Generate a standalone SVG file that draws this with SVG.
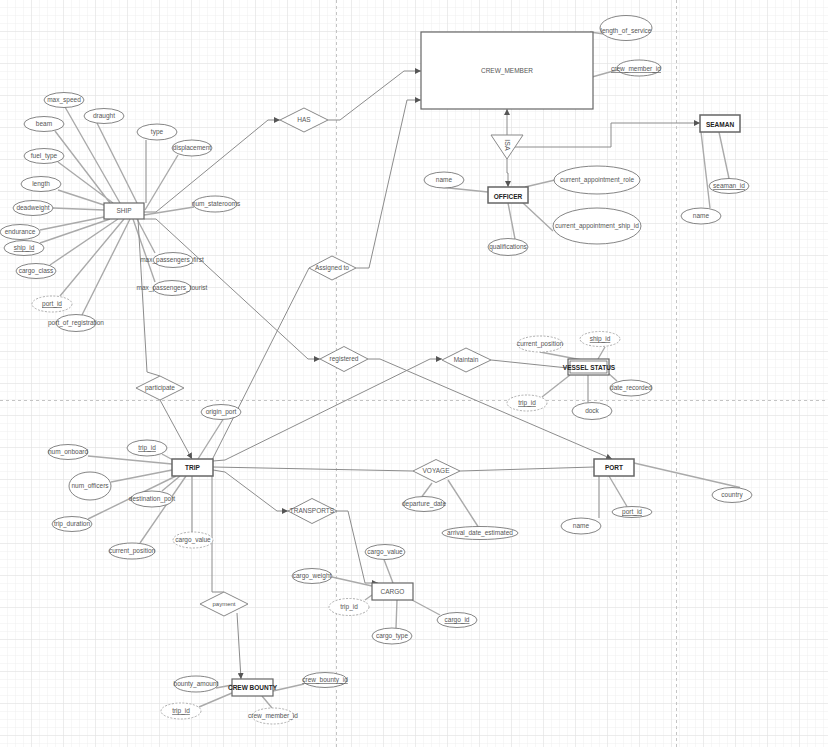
<svg xmlns="http://www.w3.org/2000/svg" width="828" height="747" viewBox="0 0 828 747">
<defs>
<pattern id="g8" width="8" height="8" patternUnits="userSpaceOnUse"><path d="M8 0V8H0" fill="none" stroke="#efefef" stroke-width="1"/></pattern>
<pattern id="g32" width="32" height="32" patternUnits="userSpaceOnUse"><rect width="32" height="32" fill="url(#g8)"/><path d="M32 0V32H0" fill="none" stroke="#e2e2e2" stroke-width="1"/></pattern>
<marker id="arr" markerUnits="userSpaceOnUse" markerWidth="6" markerHeight="6" refX="6" refY="3" orient="auto"><path d="M0,0 L6,3 L0,6 z" fill="#555"/></marker>
</defs>
<style>
.t{font-family:"Liberation Sans",Arial,sans-serif;font-size:6.5px;fill:#555;text-anchor:middle}
.b{font-weight:bold;fill:#222}
.u{text-decoration:underline}
.e{fill:#fff;stroke:#666;stroke-width:1.2}
.a{fill:#fff;stroke:#666;stroke-width:0.8}
.d{stroke-dasharray:2,1.5;stroke:#999}
.r{fill:#fff;stroke:#888;stroke-width:1}
.al{stroke:#aaa;stroke-width:1.4;fill:none}
.rl{stroke:#8c8c8c;stroke-width:1;fill:none}
.pb{stroke:#c4c4c4;stroke-width:1;stroke-dasharray:3,3;fill:none}
</style>
<rect width="828" height="747" fill="#fff"/>
<rect width="828" height="747" fill="url(#g32)"/>
<g id="pagebreaks">
<path class="pb" d="M336.5 0V747M676.5 0V747M0 400.5H828"/>
</g>
<g id="connectors">
<path class="al" d="M590 32L604 34M592 77L617 70"/>
<path class="al" d="M719 132L729 178.5M701 132L710 208"/>
<path class="al" d="M439 187L488 192M525 187L555 180M523 203L553 231M508 203L515 239"/>
<path class="al" d="M65 107L120 203M97 123L137 203M55 131L110 203M146 140L146 203M178 155L145 210M58 162L113 203M58 190L104 205M53 208L104 210M40 230L104 217M40 243L110 219M50 265L118 219M60 296L124 219M82 315L130 219M144 215L194 207M137 219L155 253M133 219L155 282"/>
<path class="al" d="M540 352L582 360M605 347L598 359M608 373L617 381M588 375L588 402.5M542 397L570 375"/>
<path class="al" d="M223 419.5L198 459M162 454L173 460M88 456L172 464M111 482L172 470M180 476L162 491M88 519L176 476M140 543L186 476M192 532L192 476"/>
<path class="al" d="M422 496.5L432 483M478 526.5L448 480"/>
<path class="al" d="M634 463L740 487.5M609 476L627 506.5M599 476L599 518"/>
<path class="al" d="M384 559.5L393 583M332 577L372 586M365 600L372 595M412 600L440 615M397 600L396 628"/>
<path class="al" d="M216 688L232 685M199 707L232 693M273 691L304 684M262 696L272 708"/>
<path class="rl" d="M144 212L156 212L268 120L280 120" marker-end="url(#arr)"/>
<path class="rl" d="M328 120L340 120L404 71L421 71" marker-end="url(#arr)"/>
<path class="rl" d="M144 219L156 219L308 359L320 359" marker-end="url(#arr)"/>
<path class="rl" d="M368 359L380 359L612 459" marker-end="url(#arr)"/>
<path class="rl" d="M356 268L369 268L407 100L421 100" marker-end="url(#arr)"/>
<path class="rl" d="M212 460L309 268"/>
<path class="rl" d="M138 219L147 372L160 376"/>
<path class="rl" d="M160 400L192 459" marker-end="url(#arr)"/>
<path class="rl" d="M213 461L225 460L430 359L442 359" marker-end="url(#arr)"/>
<path class="rl" d="M491 360L568 368"/>
<path class="rl" d="M213 467L413 471"/>
<path class="rl" d="M460 471L594 467"/>
<path class="rl" d="M213 470L225 472L277 511L288 511" marker-end="url(#arr)"/>
<path class="rl" d="M337 511L348 511L365 583L378 583" marker-end="url(#arr)"/>
<path class="rl" d="M212 476L212 592L224 592"/>
<path class="rl" d="M237 613L241 679" marker-end="url(#arr)"/>
<path class="rl" d="M507 135L507 109" marker-end="url(#arr)"/>
<path class="rl" d="M507 159L507 173L508 173L508 187" marker-end="url(#arr)"/>
<path class="rl" d="M513 147L611 147L611 123L700 123" marker-end="url(#arr)"/>
</g>
<g id="crew_member"><rect class="e" x="421" y="32" width="172" height="77"/><text class="t" x="507" y="73">CREW_MEMBER</text></g>
<g id="cm_length_of_service"><ellipse class="a" cx="626" cy="28" rx="26" ry="12.5"/><text class="t" x="626" y="33">length_of_service</text></g>
<g id="cm_crew_member_id"><ellipse class="a" cx="639" cy="68" rx="22" ry="8"/><text class="t u" x="636" y="71">crew_member_id</text></g>
<g id="isa"><polygon class="r" points="491,135 523,135 507,159"/><text class="t" x="507" y="147.5" transform="rotate(90 507 145)" style="font-size:7px">ISA</text></g>
<g id="seaman"><rect class="e" x="700" y="115" width="40" height="17" style="stroke-width:1.5"/><text class="t b" x="720" y="127">SEAMAN</text></g>
<g id="se_seaman_id"><ellipse class="a" cx="729" cy="186" rx="20" ry="7.5"/><text class="t u" x="729" y="188.3">seaman_id</text></g>
<g id="se_name"><ellipse class="a" cx="701" cy="216" rx="20" ry="8"/><text class="t" x="701" y="218.3">name</text></g>
<g id="officer"><rect class="e" x="488" y="187" width="40" height="16" style="stroke-width:1.5"/><text class="t b" x="508" y="199">OFFICER</text></g>
<g id="of_name"><ellipse class="a" cx="444" cy="180" rx="20" ry="8"/><text class="t" x="444" y="182.3">name</text></g>
<g id="of_role"><ellipse class="a" cx="597" cy="180" rx="43" ry="14"/><text class="t" x="597" y="182.3">current_appointment_role</text></g>
<g id="of_ship"><ellipse class="a" cx="597" cy="226" rx="44" ry="18"/><text class="t" x="597" y="228.3">current_appointment_ship_id</text></g>
<g id="of_qual"><ellipse class="a" cx="508" cy="247" rx="20" ry="8.5"/><text class="t" x="508" y="249.3">qualifications</text></g>
<g id="ship"><rect class="e" x="104" y="203" width="40" height="16"/><text class="t" x="124" y="213.3">SHIP</text></g>
<g id="sh_max_speed"><ellipse class="a" cx="64" cy="100" rx="20" ry="7.5"/><text class="t" x="64" y="102.3">max_speed</text></g>
<g id="sh_draught"><ellipse class="a" cx="104" cy="116" rx="20" ry="7.5"/><text class="t" x="104" y="118.3">draught</text></g>
<g id="sh_beam"><ellipse class="a" cx="44" cy="124" rx="20" ry="7.5"/><text class="t" x="44" y="126.3">beam</text></g>
<g id="sh_type"><ellipse class="a" cx="157" cy="132" rx="20" ry="8"/><text class="t" x="157" y="134.3">type</text></g>
<g id="sh_displacement"><ellipse class="a" cx="192" cy="148" rx="20" ry="8"/><text class="t" x="192" y="150.3">displacement</text></g>
<g id="sh_fuel_type"><ellipse class="a" cx="44" cy="156" rx="20" ry="7.5"/><text class="t" x="44" y="158.3">fuel_type</text></g>
<g id="sh_length"><ellipse class="a" cx="41" cy="184" rx="20" ry="7.5"/><text class="t" x="41" y="186.3">length</text></g>
<g id="sh_deadweight"><ellipse class="a" cx="33" cy="208" rx="20" ry="7.5"/><text class="t" x="33" y="210.3">deadweight</text></g>
<g id="sh_endurance"><ellipse class="a" cx="20" cy="232" rx="20" ry="7.5"/><text class="t" x="20" y="234.3">endurance</text></g>
<g id="sh_ship_id"><ellipse class="a" cx="24" cy="248" rx="20" ry="7.5"/><text class="t u" x="24" y="250.3">ship_id</text></g>
<g id="sh_cargo_class"><ellipse class="a" cx="36" cy="271" rx="20" ry="7.5"/><text class="t" x="36" y="273.3">cargo_class</text></g>
<g id="sh_port_id"><ellipse class="a d" cx="52" cy="304" rx="20" ry="8"/><text class="t u" x="52" y="306.3">port_id</text></g>
<g id="sh_port_of_registration"><ellipse class="a" cx="76" cy="323" rx="20" ry="8.5"/><text class="t" x="76" y="325.3">port_of_registration</text></g>
<g id="sh_num_staterooms"><ellipse class="a" cx="215" cy="204" rx="22" ry="8"/><text class="t" x="216" y="206.3">num_staterooms</text></g>
<g id="sh_mpf"><ellipse class="a" cx="173" cy="260" rx="20" ry="7.5"/><text class="t" x="172" y="262.3">max_passengers_first</text></g>
<g id="sh_mpt"><ellipse class="a" cx="172" cy="288" rx="19" ry="7.5"/><text class="t" x="172" y="290.3">max_passengers_tourist</text></g>
<g id="has"><polygon class="r" points="280,120 304,108 328,120 304,132"/><text class="t" x="304" y="122.3">HAS</text></g>
<g id="assigned_to"><polygon class="r" points="309,268 332,256 356,268 332,280"/><text class="t" x="332" y="270.3">Assigned to</text></g>
<g id="registered"><polygon class="r" points="320,359 344,346.5 368,359 344,371.5"/><text class="t" x="344" y="361.3">registered</text></g>
<g id="maintain"><polygon class="r" points="442,360 466,348 491,360 466,372"/><text class="t" x="466" y="362.3">Maintain</text></g>
<g id="participate"><polygon class="r" points="136,388 160,376 184,388 160,400"/><text class="t" x="160" y="390.3">participate</text></g>
<g id="vessel_status"><rect class="e" x="568" y="359" width="41" height="16"/><rect x="570" y="361" width="37" height="12" fill="none" stroke="#666" stroke-width="0.8"/><text class="t b" x="589" y="369.8">VESSEL STATUS</text></g>
<g id="vs_current_position"><ellipse class="a d" cx="540" cy="344" rx="23" ry="8"/><text class="t" x="540" y="346.3">current_position</text></g>
<g id="vs_ship_id"><ellipse class="a d" cx="600" cy="339" rx="20" ry="7.5"/><text class="t u" x="600" y="341.3">ship_id</text></g>
<g id="vs_date_recorded"><ellipse class="a" cx="631" cy="388" rx="21" ry="8"/><text class="t" x="631" y="390.3">date_recorded</text></g>
<g id="vs_dock"><ellipse class="a" cx="592" cy="411" rx="20" ry="8.5"/><text class="t" x="592" y="413.3">dock</text></g>
<g id="vs_trip_id"><ellipse class="a d" cx="527" cy="403" rx="20" ry="8"/><text class="t u" x="527" y="405.3">trip_id</text></g>
<g id="trip"><rect class="e" x="172" y="459" width="41" height="17" style="stroke-width:1.5"/><text class="t b" x="192.5" y="470">TRIP</text></g>
<g id="tr_origin_port"><ellipse class="a" cx="221" cy="412" rx="20" ry="7.5"/><text class="t" x="221" y="414.3">origin_port</text></g>
<g id="tr_trip_id"><ellipse class="a" cx="147" cy="448" rx="20" ry="8"/><text class="t u" x="147" y="450.3">trip_id</text></g>
<g id="tr_num_onboard"><ellipse class="a" cx="68" cy="452" rx="20" ry="7.5"/><text class="t" x="68" y="454.3">num_onboard</text></g>
<g id="tr_num_officers"><ellipse class="a" cx="90" cy="486" rx="21" ry="14"/><text class="t" x="90" y="488.3">num_officers</text></g>
<g id="tr_destination_port"><ellipse class="a" cx="152" cy="499" rx="21" ry="8"/><text class="t" x="152" y="501.3">destination_port</text></g>
<g id="tr_trip_duration"><ellipse class="a" cx="72" cy="524" rx="20" ry="7.5"/><text class="t" x="72" y="526.3">trip_duration</text></g>
<g id="tr_current_position"><ellipse class="a" cx="132" cy="551" rx="23" ry="8"/><text class="t" x="132" y="553.3">current_position</text></g>
<g id="tr_cargo_value"><ellipse class="a d" cx="193" cy="540" rx="20" ry="8"/><text class="t" x="193" y="542.3">cargo_value</text></g>
<g id="voyage"><polygon class="r" points="413,471 436,459.5 460,471 436,482.5"/><text class="t" x="436" y="473.3">VOYAGE</text></g>
<g id="vo_departure_date"><ellipse class="a" cx="424" cy="504" rx="21" ry="7.5"/><text class="t" x="424" y="506.3">departure_date</text></g>
<g id="vo_arrival"><ellipse class="a" cx="480" cy="533" rx="38" ry="6.5"/><text class="t" x="480" y="535.3">arrival_date_estimated</text></g>
<g id="port"><rect class="e" x="594" y="459" width="40" height="17" style="stroke-width:1.5"/><text class="t b" x="614" y="470">PORT</text></g>
<g id="po_country"><ellipse class="a" cx="732" cy="495" rx="20" ry="7.5"/><text class="t" x="732" y="497.3">country</text></g>
<g id="po_port_id"><ellipse class="a" cx="632" cy="512" rx="20" ry="5.5"/><text class="t u" x="632" y="514.3">port_id</text></g>
<g id="po_name"><ellipse class="a" cx="581" cy="526" rx="20" ry="8"/><text class="t" x="581" y="528.3">name</text></g>
<g id="transports"><polygon class="r" points="288,511 312,498.5 337,511 312,523.5"/><text class="t" x="312" y="513.3">TRANSPORTS</text></g>
<g id="cargo"><rect class="e" x="372" y="583" width="41" height="17"/><text class="t" x="392.5" y="594">CARGO</text></g>
<g id="ca_cargo_value"><ellipse class="a" cx="385" cy="552" rx="20" ry="7.5"/><text class="t" x="385" y="554.3">cargo_value</text></g>
<g id="ca_cargo_weight"><ellipse class="a" cx="312" cy="576" rx="20" ry="7.5"/><text class="t" x="312" y="578.3">cargo_weight</text></g>
<g id="ca_trip_id"><ellipse class="a d" cx="349" cy="607" rx="20" ry="8.5"/><text class="t" x="349" y="609.3">trip_id</text></g>
<g id="ca_cargo_id"><ellipse class="a" cx="457" cy="620" rx="20" ry="7.5"/><text class="t u" x="457" y="622.3">cargo_id</text></g>
<g id="ca_cargo_type"><ellipse class="a" cx="392" cy="636" rx="20" ry="8"/><text class="t" x="392" y="638.3">cargo_type</text></g>
<g id="payment"><polygon class="r" points="200,604 224,592 248,604 224,616"/><text class="t" x="224" y="606.3" style="font-size:6px">payment</text></g>
<g id="crew_bounty"><rect class="e" x="232" y="679" width="41" height="17"/><text class="t b" x="252.5" y="690">CREW BOUNTY</text></g>
<g id="cb_bounty_amount"><ellipse class="a" cx="196" cy="684" rx="22" ry="8"/><text class="t" x="196" y="686.3">bounty_amount</text></g>
<g id="cb_trip_id"><ellipse class="a d" cx="181" cy="711" rx="20" ry="8"/><text class="t u" x="181" y="713.3">trip_id</text></g>
<g id="cb_crew_bounty_id"><ellipse class="a" cx="325" cy="680" rx="22" ry="7.5"/><text class="t u" x="325" y="682.3">crew_bounty_id</text></g>
<g id="cb_crew_member_id"><ellipse class="a d" cx="273" cy="716" rx="21" ry="8"/><text class="t" x="273" y="718.3">crew_member_id</text></g>
</svg>
